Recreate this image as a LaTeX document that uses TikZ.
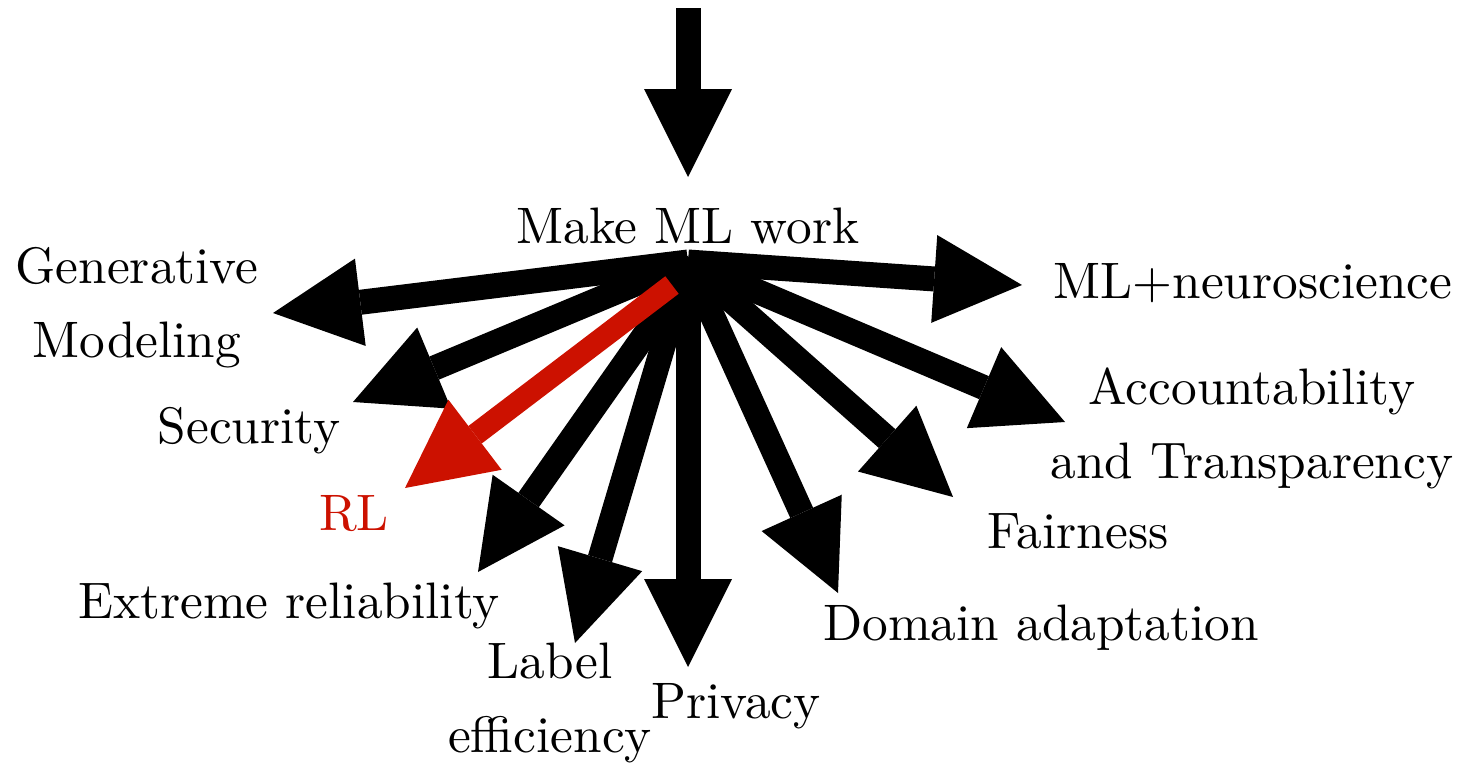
\documentclass[tikz,border=0pt]{standalone}
\usetikzlibrary{arrows.meta}
\definecolor{rlred}{RGB}{204,17,0}
\begin{document}
\begin{tikzpicture}[x=0.02cm,y=-0.02cm,
  bigarrow/.style={line width=0.5cm,
    -{Triangle[length=1.76cm,width=1.76cm,line width=0pt]}},
  lbl/.style={scale=2.92,inner sep=0pt,align=center,
    font=\fontsize{10}{14.4}\selectfont}]
\useasboundingbox (0,0) rectangle (1470,762);
% labels
\node[lbl,anchor=base] (make) at (688,243) {Make ML work};
\node[lbl,anchor=base] (gen) at (137,357) {Generative\\Modeling};
\node[lbl,anchor=base] (sec) at (249,443) {Security};
\node[lbl,anchor=base,text=rlred] (rl) at (354,530) {RL};
\node[lbl,anchor=base] (ext) at (289,618) {Extreme reliability};
\node[lbl,anchor=base] (lab) at (550,752) {Label\\efficiency};
\node[lbl,anchor=base] (pri) at (736,718) {Privacy};
\node[lbl,anchor=base] (dom) at (1041,640) {Domain adaptation};
\node[lbl,anchor=base] (fai) at (1078,548) {Fairness};
\node[lbl,anchor=base] (acc) at (1252,478) {Accountability\\and Transparency};
\node[lbl,anchor=base] (neu) at (1253,298) {ML+neuroscience};
% coordinates
\coordinate (hub) at (688,262);
\coordinate (topstart) at (688,8);
\coordinate (topend) at (688,177);
\coordinate (tgen) at (273,313);
\coordinate (tsec) at (353,402);
\coordinate (extstart) at (696,262);
\coordinate (text) at (478,572);
\coordinate (tlab) at (575,643);
\coordinate (tpri) at (688,667);
\coordinate (tdom) at (838,593);
\coordinate (tfai) at (953,497);
\coordinate (tacc) at (1065,422);
\coordinate (tneu) at (1022,285);
\coordinate (rlstart) at (672,285);
\coordinate (trl) at (405,488);
% arrows
\draw[bigarrow] (topstart) -- (topend);
\draw[bigarrow] (hub) -- (tgen);
\draw[bigarrow] (hub) -- (tsec);
\draw[bigarrow] (extstart) -- (text);
\draw[bigarrow] (hub) -- (tlab);
\draw[bigarrow] (hub) -- (tpri);
\draw[bigarrow] (hub) -- (tdom);
\draw[bigarrow] (hub) -- (tfai);
\draw[bigarrow] (hub) -- (tacc);
\draw[bigarrow] (hub) -- (tneu);
\draw[bigarrow,draw=rlred,fill=rlred,line width=0.44cm] (rlstart) -- (trl);
\end{tikzpicture}
\end{document}
